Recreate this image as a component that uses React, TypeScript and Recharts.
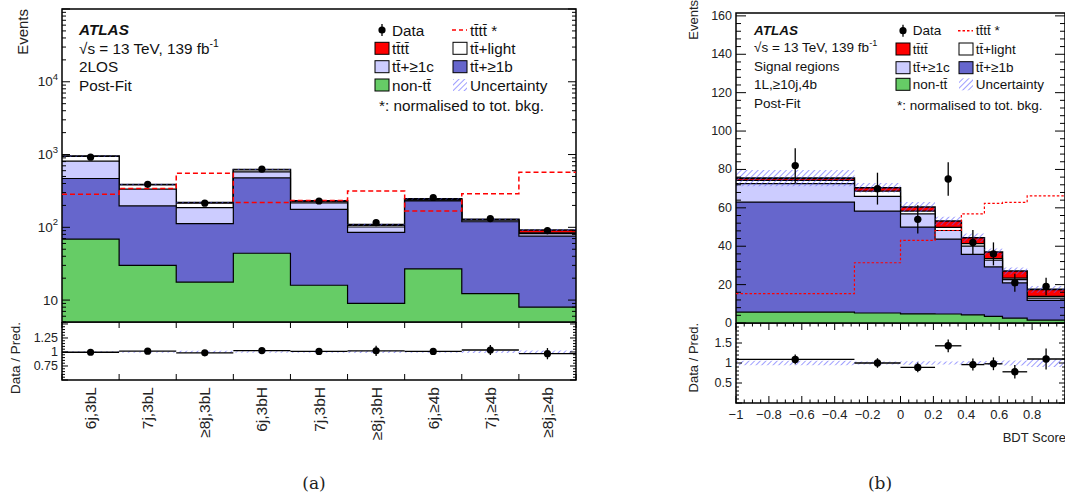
import React from 'react'
import { ComposedChart, Area, Line, Scatter, ErrorBar, XAxis, YAxis, ReferenceArea } from 'recharts'

const FONT = '"Liberation Sans", Arial, Helvetica, sans-serif'

// ---------- (a) 2LOS regions, post-fit ----------
const regionsA = ['6j,3bL', '7j,3bL', '≥8j,3bL', '6j,3bH', '7j,3bH', '≥8j,3bH', '6j,≥4b', '7j,≥4b', '≥8j,≥4b']
const edgesA = [0, 1, 2, 3, 4, 5, 6, 7, 8, 9]
const nonTtA = [69, 30, 17.7, 44, 16, 9, 26.8, 12.3, 8]
const ttbA = [400, 167, 95, 434, 160, 76, 204, 107, 67.5]
const ttcA = [342, 138, 74, 100, 41, 16, 5, 6, 6.5]
const ttlightA = [131, 47, 28, 38, 10, 5, 6, 1, 2]
const ttttA = [8, 6, 4, 8, 4, 3, 4, 3, 8]
const uncA = [18, 8, 5, 12, 5, 3, 5, 3, 3]
const ttttNormA = [285, 342, 555, 220, 234, 316, 168, 290, 573]
const dataA = [920, 390, 215, 630, 230, 116, 257, 132, 90]
const dataErrA = [30, 20, 15, 25, 15, 11, 16, 11.5, 9.5]
const ratioA = [0.995, 1.015, 0.985, 1.025, 1.01, 1.02, 1.01, 1.035, 0.97]
const ratioErrA = [0.03, 0.04, 0.05, 0.03, 0.05, 0.09, 0.04, 0.09, 0.1]
const ratioUncA = [0.015, 0.015, 0.02, 0.015, 0.015, 0.02, 0.015, 0.02, 0.025]

// ---------- (b) 1L >=10j 4b, BDT score ----------
const edgesB = [-1, -0.28, 0, 0.21, 0.37, 0.51, 0.62, 0.77, 1]
const nonTtB = [5.7, 5.2, 4.8, 4.7, 4.2, 3.5, 2.5, 1.5]
const ttbB = [57.3, 53.1, 45.2, 39.0, 31.6, 25.7, 18.4, 10.3]
const ttcB = [9.6, 7.7, 6.9, 4.5, 4.3, 3.5, 1.7, 1.2]
const ttlightB = [1.7, 2.7, 1.4, 1.6, 1.2, 0.8, 0.8, 0.9]
const ttttB = [1.2, 1.8, 2.1, 3.3, 3.1, 3.5, 3.7, 3.6]
const uncB = [4.2, 2.5, 2.6, 2.2, 2.2, 1.8, 1.8, 1.8]
const ttttNormB = [15.3, 31.4, 43.0, 48.2, 56.8, 62.3, 62.8, 66.2]
const dataB = [82, 70, 54, 75, 42, 36, 21, 19]
const dataErrB = [9, 8.3, 7.4, 8.7, 6.5, 6, 4.7, 4.6]
const ratioB = [1.09, 1.0, 0.89, 1.43, 0.96, 0.98, 0.78, 1.1]
const ratioErrB = [0.12, 0.12, 0.12, 0.16, 0.15, 0.16, 0.17, 0.26]
const ratioUncB = [0.055, 0.035, 0.045, 0.04, 0.05, 0.05, 0.065, 0.1]

// ---------- axis ticks ----------
const logMajorA = [10, 100, 1000, 10000, 100000]
const logSupA: Record<number, string> = { 10: '', 100: '2', 1000: '3', 10000: '4' }
const ratioMajorA = [0.5, 0.75, 1, 1.25, 1.5]
const ratioLabelA = [0.75, 1, 1.25]
const eventsMajorB = [0, 20, 40, 60, 80, 100, 120, 140, 160]
const ratioMajorB = [0, 0.5, 1, 1.5, 2]
const ratioLabelB = [0.5, 1, 1.5]
const bdtMajor = [-1, -0.8, -0.6, -0.4, -0.2, 0, 0.2, 0.4, 0.6, 0.8, 1]
const bdtLabel = [-1, -0.8, -0.6, -0.4, -0.2, 0, 0.2, 0.4, 0.6, 0.8]

const steps = (a: number, b: number, s: number) => {
  const out: number[] = []
  for (let i = 0; a + i * s <= b + 1e-9; i++) out.push(Math.round((a + i * s) * 1000) / 1000)
  return out
}
const logTicksA = [1, 10, 100, 1000, 10000]
  .flatMap((d) => [1, 2, 3, 4, 5, 6, 7, 8, 9].map((m) => d * m))
  .concat([100000])
  .filter((v) => v >= 5 && v <= 100000)
const near = (list: number[], v: number) => list.some((m) => Math.abs(m - v) < 1e-9)

type Stack = { nonTt: number[]; ttb: number[]; ttc: number[]; ttlight: number[]; tttt: number[]; unc: number[]; sig: number[] }

function stackRows(edges: number[], s: Stack) {
  const n = edges.length - 1
  return edges.map((x, i) => {
    const k = Math.min(i, n - 1)
    const c1 = s.nonTt[k]
    const c2 = c1 + s.ttb[k]
    const c3 = c2 + s.ttc[k]
    const c4 = c3 + s.ttlight[k]
    const c5 = c4 + s.tttt[k]
    return { x, c1, c2, c3, c4, c5, band: [c5 - s.unc[k], c5 + s.unc[k]], sig: s.sig[k] }
  })
}
function bandRows(edges: number[], unc: number[]) {
  const n = edges.length - 1
  return edges.map((x, i) => {
    const u = unc[Math.min(i, n - 1)]
    return { x, band: [1 - u, 1 + u] }
  })
}
function points(edges: number[], y: number[], ey: number[]) {
  return y.map((v, i) => ({ x: (edges[i] + edges[i + 1]) / 2, y: v, ey: ey[i], ex: (edges[i + 1] - edges[i]) / 2 }))
}

const rowsA = stackRows(edgesA, { nonTt: nonTtA, ttb: ttbA, ttc: ttcA, ttlight: ttlightA, tttt: ttttA, unc: uncA, sig: ttttNormA })
const rowsB = stackRows(edgesB, { nonTt: nonTtB, ttb: ttbB, ttc: ttcB, ttlight: ttlightB, tttt: ttttB, unc: uncB, sig: ttttNormB })
const centersA = regionsA.map((_, i) => (edgesA[i] + edgesA[i + 1]) / 2)

const stackLayers = [
  { key: 'c5', fill: '#ff0000', sw: 1.6 },
  { key: 'c4', fill: '#ffffff', sw: 1.2 },
  { key: 'c3', fill: '#ccccff', sw: 1.2 },
  { key: 'c2', fill: '#6666cc', sw: 1.2 },
  { key: 'c1', fill: '#66cc66', sw: 1.2 },
]

// ---------- tick renderers (ROOT style: inward ticks on all four sides) ----------
function makeYTick(o: { plotW: number; len: (v: number) => number; label: (v: number) => React.ReactNode; fs: number }) {
  return (p: any) => {
    const v = p.payload.value as number
    const len = o.len(v)
    const lab = o.label(v)
    return (
      <g>
        <line x1={p.x} y1={p.y} x2={p.x + len} y2={p.y} stroke="#000" />
        <line x1={p.x + o.plotW} y1={p.y} x2={p.x + o.plotW - len} y2={p.y} stroke="#000" />
        {lab != null && (
          <text x={p.x - 4} y={p.y} textAnchor="end" dominantBaseline="central" fontFamily={FONT} fontSize={o.fs} fill="#222">
            {lab}
          </text>
        )}
      </g>
    )
  }
}
function makeXTick(o: { plotH: number; len: (v: number) => number; label?: (v: number) => string | null; fs?: number; dy?: number; rotate?: boolean }) {
  return (p: any) => {
    const v = p.payload.value as number
    const len = o.len(v)
    const lab = o.label ? o.label(v) : null
    const ty = p.y + (o.dy || 0)
    return (
      <g>
        {len > 0 && <line x1={p.x} y1={p.y} x2={p.x} y2={p.y - len} stroke="#000" />}
        {len > 0 && <line x1={p.x} y1={p.y - o.plotH} x2={p.x} y2={p.y - o.plotH + len} stroke="#000" />}
        {lab != null &&
          (o.rotate ? (
            <text transform={`rotate(-90 ${p.x} ${ty})`} x={p.x} y={ty} textAnchor="end" dominantBaseline="central" fontFamily={FONT} fontSize={o.fs} fill="#222">
              {lab}
            </text>
          ) : (
            <text x={p.x} y={ty} textAnchor="middle" dominantBaseline="central" fontFamily={FONT} fontSize={o.fs} fill="#222">
              {lab}
            </text>
          ))}
      </g>
    )
  }
}

const fmtSigned = (v: number) => (v < 0 ? '\u2212' + String(-v) : String(v))
const bdtLen = (major: number, minor: number) => (v: number) => (near(bdtMajor, v) ? major : minor)

const Dot = (r: number) => (p: any) => <circle cx={p.cx} cy={p.cy} r={r} fill="#000" />

type MainProps = {
  rows: any[]; pts: any[]; xDomain: [number, number]; yDomain: [number, number]; log?: boolean
  xTicks: number[]; yTicks: number[]; xTick: any; yTick: any
  w: number; h: number; margin: any; yW: number; sigDash: string; sigW: number; dotR: number
}
function MainPanel(p: MainProps) {
  const base = p.yDomain[0]
  return (
    <ComposedChart width={p.w} height={p.h} data={p.rows} margin={p.margin}>
      <XAxis type="number" dataKey="x" domain={p.xDomain} ticks={p.xTicks} allowDataOverflow interval={0} height={0} tickSize={0} tickMargin={0} axisLine={false} tickLine={false} tick={p.xTick} />
      <YAxis type="number" scale={p.log ? 'log' : 'linear'} domain={p.yDomain} ticks={p.yTicks} allowDataOverflow interval={0} width={p.yW} tickSize={0} tickMargin={0} axisLine={false} tickLine={false} tick={p.yTick} />
      {stackLayers.map((l) => (
        <Area key={l.key} type="stepAfter" dataKey={l.key} fill={l.fill} fillOpacity={1} stroke="#000" strokeWidth={l.sw} baseValue={base} dot={false} activeDot={false} isAnimationActive={false} />
      ))}
      <Area type="stepAfter" dataKey="band" fill="url(#hatch)" fillOpacity={1} stroke="none" dot={false} activeDot={false} isAnimationActive={false} />
      <Line type="stepAfter" dataKey="sig" stroke="#ff0000" strokeWidth={p.sigW} strokeDasharray={p.sigDash} dot={false} activeDot={false} isAnimationActive={false} />
      <Scatter data={p.pts} dataKey="y" fill="#000" shape={Dot(p.dotR)} isAnimationActive={false}>
        <ErrorBar dataKey="ey" direction="y" width={0} stroke="#000" strokeWidth={1.3} />
      </Scatter>
      <ReferenceArea x1={p.xDomain[0]} x2={p.xDomain[1]} y1={p.yDomain[0]} y2={p.yDomain[1]} fill="none" stroke="#000" strokeWidth={1.5} ifOverflow="visible" />
    </ComposedChart>
  )
}

type RatioProps = {
  rows: any[]; pts: any[]; xDomain: [number, number]; yDomain: [number, number]
  xTicks: number[]; yTicks: number[]; xTick: any; yTick: any
  w: number; h: number; margin: any; yW: number; xH: number; dotR: number
}
function RatioPanel(p: RatioProps) {
  return (
    <ComposedChart width={p.w} height={p.h} data={p.rows} margin={p.margin}>
      <XAxis type="number" dataKey="x" domain={p.xDomain} ticks={p.xTicks} allowDataOverflow interval={0} height={p.xH} tickSize={0} tickMargin={0} axisLine={false} tickLine={false} tick={p.xTick} />
      <YAxis type="number" domain={p.yDomain} ticks={p.yTicks} allowDataOverflow interval={0} width={p.yW} tickSize={0} tickMargin={0} axisLine={false} tickLine={false} tick={p.yTick} />
      <Area type="stepAfter" dataKey="band" fill="url(#hatch)" fillOpacity={1} stroke="none" dot={false} activeDot={false} isAnimationActive={false} />
      <Scatter data={p.pts} dataKey="y" fill="#000" shape={Dot(p.dotR)} isAnimationActive={false}>
        <ErrorBar dataKey="ey" direction="y" width={0} stroke="#000" strokeWidth={1.3} />
        <ErrorBar dataKey="ex" direction="x" width={0} stroke="#000" strokeWidth={1.3} />
      </Scatter>
      <ReferenceArea x1={p.xDomain[0]} x2={p.xDomain[1]} y1={p.yDomain[0]} y2={p.yDomain[1]} fill="none" stroke="#000" strokeWidth={1.5} ifOverflow="visible" />
    </ComposedChart>
  )
}

const TT = 'tt\u0304'
const TTTT = 'tt\u0304tt\u0304'

function LegendBlock(o: { bx: [number, number]; tx: [number, number]; rows: number[]; noteX: number; noteY: number; fs: number; dash: string }) {
  const bw = 14
  const bh = 12
  const box = (col: 0 | 1, row: number, fill: string) => (
    <rect x={o.bx[col]} y={o.rows[row] - bh / 2} width={bw} height={bh} fill={fill} stroke={fill.startsWith('url') ? 'none' : '#000'} strokeWidth={1} />
  )
  const label = (col: 0 | 1, row: number, s: string) => (
    <text x={o.tx[col]} y={o.rows[row]} dominantBaseline="central" fontFamily={FONT} fontSize={o.fs} fill="#111">{s}</text>
  )
  const cx = o.bx[0] + bw / 2
  return (
    <g>
      <line x1={cx} x2={cx} y1={o.rows[0] - 6} y2={o.rows[0] + 6} stroke="#000" strokeWidth={1.3} />
      <circle cx={cx} cy={o.rows[0]} r={3.6} fill="#000" />
      {label(0, 0, 'Data')}
      <line x1={o.bx[1] - 1} x2={o.bx[1] + bw} y1={o.rows[0]} y2={o.rows[0]} stroke="#ff0000" strokeWidth={1.5} strokeDasharray={o.dash} />
      {label(1, 0, TTTT + ' *')}
      {box(0, 1, '#ff0000')}
      {label(0, 1, TTTT)}
      {box(1, 1, '#ffffff')}
      {label(1, 1, TT + '+light')}
      {box(0, 2, '#ccccff')}
      {label(0, 2, TT + '+≥1c')}
      {box(1, 2, '#6666cc')}
      {label(1, 2, TT + '+≥1b')}
      {box(0, 3, '#66cc66')}
      {label(0, 3, 'non-' + TT)}
      {box(1, 3, 'url(#hatch)')}
      {label(1, 3, 'Uncertainty')}
      <text x={o.noteX} y={o.noteY} dominantBaseline="central" fontFamily={FONT} fontSize={o.fs} fill="#111">*: normalised to tot. bkg.</text>
    </g>
  )
}

function AtlasBlock(o: { x: number; rows: number[]; lines: string[]; fs: number }) {
  return (
    <g fontFamily={FONT} fontSize={o.fs} fill="#111">
      <text x={o.x} y={o.rows[0]} dominantBaseline="central" fontWeight="bold" fontStyle="italic">ATLAS</text>
      <text x={o.x} y={o.rows[1]} dominantBaseline="central">
        {'\u221As = 13 TeV, 139 fb'}
        <tspan dy={-5} fontSize={o.fs * 0.68}>-1</tspan>
      </text>
      {o.lines.map((s, i) => (
        <text key={s} x={o.x} y={o.rows[i + 2]} dominantBaseline="central">{s}</text>
      ))}
    </g>
  )
}

function VLabel(o: { x: number; y: number; s: string; fs: number }) {
  return (
    <text transform={`rotate(-90 ${o.x} ${o.y})`} x={o.x} y={o.y} textAnchor="end" dominantBaseline="central" fontFamily={FONT} fontSize={o.fs} fill="#222">
      {o.s}
    </text>
  )
}

export default function App() {
  // panel (a) geometry
  const aMainW = 514
  const aMainH = 313
  const aRatioH = 58
  // panel (b) geometry
  const bW = 329
  const bMainH = 310
  const bRatioH = 80

  const aXMain = makeXTick({ plotH: aMainH, len: (v) => (near(edgesA, v) ? 6 : 0) })
  const aYMain = makeYTick({
    plotW: aMainW,
    len: (v) => (near(logMajorA, v) ? 8 : 4),
    fs: 13.5,
    label: (v) =>
      v in logSupA && near(logMajorA, v) ? (
        <>
          10
          {logSupA[v] && <tspan dy={-6} fontSize={9.5}>{logSupA[v]}</tspan>}
        </>
      ) : null,
  })
  const aXRatio = makeXTick({
    plotH: aRatioH,
    len: (v) => (near(edgesA, v) ? 6 : 0),
    label: (v) => {
      const i = centersA.findIndex((c) => Math.abs(c - v) < 1e-9)
      return i >= 0 ? regionsA[i] : null
    },
    fs: 15.5,
    dy: 7,
    rotate: true,
  })
  const aYRatio = makeYTick({
    plotW: aMainW,
    len: (v) => (near(ratioMajorA, v) ? 6 : 3),
    fs: 12.5,
    label: (v) => (near(ratioLabelA, v) ? String(v) : null),
  })
  const bXMain = makeXTick({ plotH: bMainH, len: bdtLen(9, 4.5) })
  const bYMain = makeYTick({
    plotW: bW,
    len: (v) => (near(eventsMajorB, v) ? 10 : 5),
    fs: 12.5,
    label: (v) => (near(eventsMajorB, v) ? String(v) : null),
  })
  const bXRatio = makeXTick({
    plotH: bRatioH,
    len: bdtLen(7, 3.5),
    label: (v) => (near(bdtLabel, v) ? fmtSigned(v) : null),
    fs: 13,
    dy: 11,
  })
  const bYRatio = makeYTick({
    plotW: bW,
    len: (v) => (near(ratioMajorB, v) ? 6 : 3),
    fs: 12.5,
    label: (v) => (near(ratioLabelB, v) ? String(v) : null),
  })

  const ticksRatioA = [...edgesA, ...centersA].sort((a, b) => a - b)

  return (
    <div style={{ position: 'absolute', left: 0, top: 0, width: 1065, height: 498, overflow: 'hidden', background: '#fff' }}>
      <div style={{ position: 'absolute', left: 0, top: 0 }}>
        <MainPanel
          rows={rowsA}
          pts={points(edgesA, dataA, dataErrA)}
          xDomain={[0, 9]}
          yDomain={[5, 100000]}
          log
          xTicks={edgesA}
          yTicks={logTicksA}
          xTick={aXMain}
          yTick={aYMain}
          w={600}
          h={330}
          margin={{ top: 9, right: 24, bottom: 8, left: 0 }}
          yW={62}
          sigDash="5 3"
          sigW={1.5}
          dotR={3.6}
        />
      </div>
      <div style={{ position: 'absolute', left: 0, top: 322 }}>
        <RatioPanel
          rows={bandRows(edgesA, ratioUncA)}
          pts={points(edgesA, ratioA, ratioErrA)}
          xDomain={[0, 9]}
          yDomain={[0.5, 1.535]}
          xTicks={ticksRatioA}
          yTicks={steps(0.5, 1.5, 0.05)}
          xTick={aXRatio}
          yTick={aYRatio}
          w={600}
          h={128}
          margin={{ top: 0, right: 24, bottom: 0, left: 0 }}
          yW={62}
          xH={70}
          dotR={3.6}
        />
      </div>
      <div style={{ position: 'absolute', left: 690, top: 0 }}>
        <MainPanel
          rows={rowsB}
          pts={points(edgesB, dataB, dataErrB)}
          xDomain={[-1, 1]}
          yDomain={[0, 161.5]}
          xTicks={steps(-1, 1, 0.05)}
          yTicks={steps(0, 160, 4)}
          xTick={bXMain}
          yTick={bYMain}
          w={379}
          h={333}
          margin={{ top: 13, right: 4, bottom: 10, left: 0 }}
          yW={46}
          sigDash="2.5 2"
          sigW={1.2}
          dotR={3.7}
        />
      </div>
      <div style={{ position: 'absolute', left: 690, top: 323 }}>
        <RatioPanel
          rows={bandRows(edgesB, ratioUncB)}
          pts={points(edgesB, ratioB, ratioErrB)}
          xDomain={[-1, 1]}
          yDomain={[0, 2]}
          xTicks={steps(-1, 1, 0.05)}
          yTicks={steps(0, 2, 0.1)}
          xTick={bXRatio}
          yTick={bYRatio}
          w={379}
          h={110}
          margin={{ top: 0, right: 4, bottom: 0, left: 0 }}
          yW={46}
          xH={30}
          dotR={3.7}
        />
      </div>

      <svg width={1065} height={498} style={{ position: 'absolute', left: 0, top: 0, pointerEvents: 'none' }}>
        <defs>
          <pattern id="hatch" width="4" height="4" patternUnits="userSpaceOnUse" patternTransform="rotate(45)">
            <line x1="0" y1="0" x2="0" y2="4" stroke="#5b5bff" strokeWidth="1.2" />
          </pattern>
        </defs>

        {/* panel (a) annotations */}
        <VLabel x={22} y={9} s="Events" fs={15} />
        <VLabel x={15} y={322} s="Data / Pred." fs={13.5} />
        <AtlasBlock x={79} rows={[29.3, 48.3, 66.7, 85]} lines={['2LOS', 'Post-Fit']} fs={15.3} />
        <LegendBlock bx={[375, 453]} tx={[392, 470]} rows={[30, 48.3, 66.7, 85]} noteX={379} noteY={105} fs={15.3} dash="4 3" />

        {/* panel (b) annotations */}
        <VLabel x={693} y={0} s="Events" fs={13} />
        <VLabel x={693} y={323} s="Data / Pred." fs={13} />
        <AtlasBlock x={754} rows={[30, 47.5, 66.7, 84.3, 103.3]} lines={['Signal regions', '1L,≥10j,4b', 'Post-Fit']} fs={13.5} />
        <LegendBlock bx={[896, 959]} tx={[912.7, 975.7]} rows={[30.7, 49, 67.7, 84.3]} noteX={897} noteY={105} fs={13.5} dash="2.5 2" />
        <text x={1066} y={437} textAnchor="end" dominantBaseline="central" fontFamily={FONT} fontSize={13} fill="#222">BDT Score</text>

        {/* sub-figure captions */}
        <text x={314} y={483} textAnchor="middle" dominantBaseline="central" fontFamily='"DejaVu Serif", serif' fontSize={17} fill="#222">(a)</text>
        <text x={880} y={483} textAnchor="middle" dominantBaseline="central" fontFamily='"DejaVu Serif", serif' fontSize={17} fill="#222">(b)</text>
      </svg>
    </div>
  )
}
